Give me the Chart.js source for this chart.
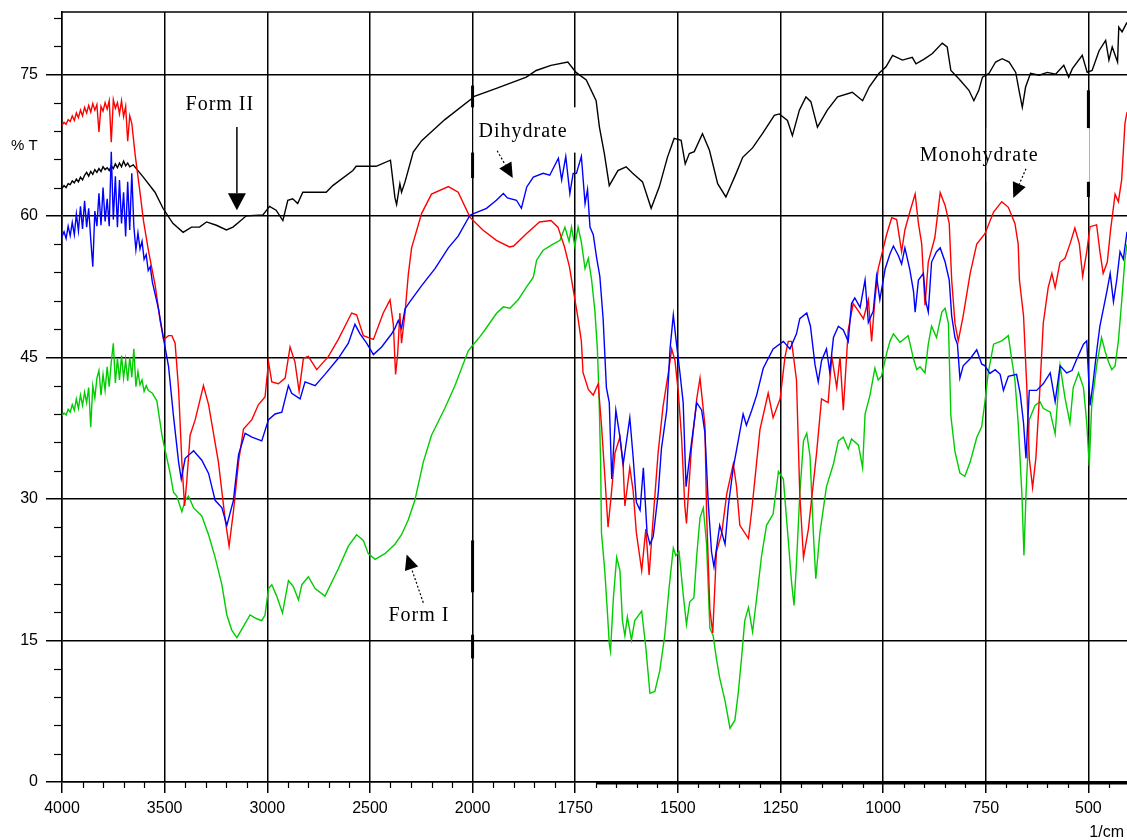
<!DOCTYPE html>
<html>
<head>
<meta charset="utf-8">
<title>IR spectra</title>
<script src="https://cdn.jsdelivr.net/npm/chart.js@4.4.1/dist/chart.umd.min.js"></script>
<style>
  html, body { margin: 0; padding: 0; background: #fff; }
  #wrap { width: 1127px; height: 840px; }
</style>
</head>
<body>
<div id="wrap"><canvas id="irChart" width="1127" height="840"></canvas></div>
<script>
/* DATA: [wavenumber (1/cm), %T] */
const formII = [
  [4000,62.9],[3990,63.2],[3980,63.0],[3970,63.4],[3960,63.3],[3950,63.7],[3940,63.5],[3930,63.9],[3920,63.6],[3910,64.1],
  [3900,63.8],[3890,64.3],[3880,64.6],[3870,64.2],[3860,64.7],[3850,64.4],[3840,64.9],[3830,64.6],[3820,65.0],[3810,64.7],
  [3800,65.2],[3790,64.9],[3780,65.1],[3770,64.8],[3760,65.3],[3750,65.0],[3740,65.5],[3730,65.1],[3720,65.6],[3710,65.2],
  [3700,65.8],[3690,65.3],[3680,65.6],[3670,65.2],[3653,65.4],[3604,64.1],[3547,62.5],[3508,60.8],[3460,59.2],[3410,58.25],
  [3369,58.8],[3330,58.8],[3296,59.35],[3248,59.0],[3199,58.5],[3167,58.8],[3102,60.0],[3021,60.1],[2989,61.0],[2957,60.6],
  [2924,59.5],[2900,61.65],[2876,61.8],[2852,61.3],[2827,62.5],[2713,62.5],[2681,63.2],[2583,64.8],[2567,65.25],[2470,65.25],
  [2400,65.9],[2378,61.9],[2370,61.2],[2354,63.4],[2346,62.5],[2329,63.6],[2289,66.75],[2248,67.97],[2135,70.2],[2005,72.4],
  [1999,72.6],[1942,73.5],[1869,74.7],[1845,75.4],[1809,75.95],[1768,76.3],[1748,75.2],[1723,74.4],[1699,72.2],[1691,69.4],
  [1679,66.6],[1667,63.2],[1646,64.8],[1626,65.2],[1610,64.5],[1586,63.6],[1565,60.8],[1545,63.1],[1525,66.25],[1509,68.2],
  [1492,68.0],[1482,65.5],[1472,66.6],[1460,66.8],[1440,68.7],[1423,66.95],[1403,63.4],[1383,62.0],[1358,64.5],[1342,66.2],
  [1318,67.2],[1294,68.7],[1265,70.65],[1253,70.8],[1233,70.1],[1221,68.5],[1204,71.2],[1188,72.6],[1176,72.1],[1160,69.4],
  [1136,71.2],[1111,72.6],[1075,73.1],[1050,72.2],[1034,73.65],[1010,75.1],[993,75.8],[977,77.0],[953,76.5],[929,76.8],
  [920,76.1],[900,76.6],[880,77.2],[856,78.3],[844,77.9],[835,75.4],[815,74.5],[791,73.3],[779,72.2],[767,73.3],
  [758,74.7],[742,75.1],[726,76.3],[710,76.65],[693,76.3],[677,75.2],[669,73.3],[661,71.5],[653,73.65],[641,75.1],
  [620,74.9],[600,75.2],[580,75.0],[560,75.95],[548,74.7],[539,75.6],[515,77.0],[503,75.2],[491,75.4],[474,77.5],
  [458,78.6],[450,76.5],[442,77.9],[429,76.3],[426,80.0],[418,79.5],[406,80.5]
];

const monohydrate = [
  [4000,69.6],[3990,69.9],[3980,69.7],[3970,70.2],[3960,70.0],[3950,70.6],[3940,70.1],[3930,70.9],[3920,70.4],[3910,71.2],
  [3900,70.6],[3890,71.5],[3880,70.9],[3870,71.7],[3860,71.0],[3850,71.9],[3840,71.2],[3830,71.8],[3820,68.9],[3810,71.6],
  [3800,71.1],[3790,72.0],[3780,71.3],[3770,72.2],[3760,67.8],[3750,72.3],[3740,71.4],[3730,72.0],[3720,70.8],[3710,72.2],
  [3700,70.5],[3690,71.6],[3680,67.9],[3670,70.6],[3660,69.8],[3643,66.35],[3619,62.3],[3603,59.46],[3578,56.2],[3546,52.6],
  [3522,48.9],[3505,46.9],[3481,47.3],[3465,47.3],[3449,46.5],[3432,41.6],[3416,33.9],[3403,29.25],[3392,31.9],[3376,36.75],
  [3351,38.4],[3311,42.0],[3286,40.0],[3238,33.9],[3205,27.8],[3186,25.0],[3165,28.65],[3140,33.9],[3116,37.4],[3075,38.4],
  [3043,40.0],[3011,40.8],[2994,44.5],[2978,42.4],[2946,42.2],[2913,42.8],[2889,46.1],[2865,44.5],[2845,41.4],[2824,44.9],
  [2800,45.1],[2759,43.7],[2702,45.1],[2654,46.9],[2589,49.7],[2565,49.5],[2532,47.3],[2483,46.9],[2435,49.7],[2402,51.1],
  [2386,48.5],[2375,43.2],[2365,45.3],[2354,49.7],[2346,46.5],[2329,49.7],[2313,53.8],[2297,56.6],[2248,60.26],[2200,62.3],
  [2118,63.1],[2070,62.5],[2013,59.86],[1975,58.5],[1942,57.4],[1910,56.7],[1900,56.8],[1869,58.1],[1837,59.35],[1809,59.5],
  [1792,58.8],[1776,56.7],[1764,54.6],[1756,52.5],[1743,49.1],[1735,46.7],[1731,43.4],[1718,41.6],[1706,41.0],[1694,42.2],
  [1686,37.8],[1678,32.5],[1670,27.0],[1662,30.5],[1653,34.9],[1641,36.55],[1633,33.3],[1629,29.25],[1617,33.3],[1609,30.9],
  [1601,26.4],[1588,22.4],[1578,26.8],[1570,21.95],[1560,28.0],[1548,34.9],[1536,39.8],[1523,43.4],[1515,45.9],[1507,44.65],
  [1499,41.4],[1491,36.55],[1483,29.25],[1479,27.4],[1467,35.3],[1454,40.6],[1446,42.8],[1434,37.8],[1430,28.4],[1422,18.3],
  [1415,15.8],[1406,24.4],[1393,26.4],[1381,30.5],[1365,33.7],[1357,31.3],[1349,27.2],[1328,25.8],[1320,28.8],[1300,37.35],
  [1280,41.2],[1268,38.6],[1251,40.6],[1239,45.05],[1231,46.7],[1223,46.7],[1211,42.6],[1203,30.5],[1194,23.8],[1182,26.8],
  [1162,34.9],[1150,40.6],[1134,40.2],[1125,45.05],[1113,41.8],[1105,45.05],[1097,39.4],[1085,47.9],[1073,50.7],[1060,49.9],
  [1048,49.1],[1036,51.1],[1028,46.7],[1020,51.1],[1012,54.4],[1004,55.8],[991,58.1],[979,59.8],[967,59.6],[955,56.2],
  [947,58.5],[935,60.4],[922,62.3],[914,59.2],[906,57.0],[898,50.5],[890,55.1],[874,57.7],[861,62.45],[849,61.1],
  [839,59.2],[833,53.2],[825,48.6],[817,46.75],[805,49.4],[788,53.9],[772,57.0],[752,58.1],[731,60.4],[711,61.5],
  [695,60.9],[679,59.2],[671,57.0],[668,53.2],[658,49.4],[650,41.8],[644,34.3],[636,31.2],[628,34.3],[618,41.8],
  [610,48.6],[598,52.4],[589,53.9],[581,52.4],[569,55.1],[557,55.5],[545,57.0],[533,58.7],[522,57.0],[514,53.6],
  [504,56.2],[496,58.85],[480,59.05],[472,56.2],[464,53.9],[454,55.1],[446,58.5],[435,62.3],[427,61.5],[419,63.8],
  [411,69.8],[406,71.0]
];

const dihydrate = [
  [4000,57.8],[3990,58.3],[3980,57.6],[3970,58.9],[3960,57.9],[3950,59.3],[3940,58.0],[3930,60.2],[3920,58.4],[3910,61.0],
  [3900,58.6],[3890,61.6],[3880,58.8],[3870,60.8],[3860,57.5],[3850,54.6],[3840,60.5],[3830,58.9],[3820,62.4],[3810,59.0],
  [3800,63.0],[3790,59.4],[3780,61.8],[3770,58.9],[3760,66.8],[3750,59.6],[3740,64.2],[3730,58.8],[3720,63.8],[3710,59.2],
  [3700,62.5],[3690,57.8],[3680,63.6],[3670,58.5],[3660,64.5],[3650,58.9],[3640,56.4],[3630,58.2],[3620,56.5],[3610,57.3],
  [3600,55.4],[3590,55.9],[3580,54.2],[3570,54.6],[3560,53.0],[3530,50.13],[3505,46.9],[3481,44.05],[3457,38.8],[3432,33.9],
  [3419,32.1],[3400,34.3],[3359,35.1],[3319,34.1],[3286,32.7],[3254,29.85],[3221,29.05],[3197,27.2],[3165,29.85],[3140,34.7],
  [3108,36.95],[3075,36.55],[3027,36.15],[2994,38.4],[2962,39.0],[2929,39.2],[2897,42.0],[2881,41.2],[2840,40.6],[2816,42.4],
  [2767,42.0],[2719,43.2],[2654,44.9],[2605,46.5],[2573,48.5],[2548,47.5],[2516,46.5],[2483,45.3],[2443,46.1],[2394,47.5],
  [2378,48.1],[2362,48.9],[2346,48.1],[2329,50.13],[2305,50.9],[2248,52.6],[2183,54.4],[2118,56.6],[2070,57.85],[2013,60.06],
  [1999,60.2],[1966,60.8],[1942,61.65],[1925,62.36],[1915,61.9],[1893,61.65],[1881,60.8],[1868,63.06],[1852,64.1],[1828,64.5],
  [1812,64.3],[1791,66.1],[1783,63.8],[1773,66.3],[1763,62.36],[1755,64.5],[1747,64.5],[1735,66.3],[1726,61.3],[1720,62.8],
  [1714,58.8],[1706,58.0],[1698,55.6],[1690,53.6],[1682,49.1],[1674,41.8],[1667,40.2],[1661,32.1],[1651,39.4],[1641,36.55],
  [1633,33.7],[1617,38.6],[1609,34.5],[1601,29.65],[1592,28.8],[1584,33.3],[1575,26.4],[1568,25.2],[1560,26.0],[1548,30.5],
  [1540,35.3],[1527,39.4],[1519,45.9],[1511,49.5],[1505,47.1],[1495,43.4],[1487,40.2],[1480,31.3],[1471,34.5],[1454,40.2],
  [1442,39.4],[1434,37.0],[1426,29.65],[1418,24.4],[1412,22.8],[1398,27.2],[1385,25.2],[1377,29.25],[1365,33.3],[1353,36.15],
  [1341,39.0],[1333,37.8],[1320,39.4],[1308,41.0],[1292,43.85],[1268,45.9],[1243,46.7],[1227,45.9],[1211,47.5],[1203,49.1],
  [1186,49.7],[1177,48.3],[1166,44.25],[1158,42.4],[1150,44.65],[1138,45.9],[1130,43.45],[1121,47.1],[1109,48.3],[1097,47.9],
  [1085,46.7],[1077,50.7],[1069,51.3],[1056,50.3],[1044,53.2],[1036,48.7],[1024,49.9],[1016,53.6],[1008,51.1],[995,54.4],
  [983,56.0],[975,56.8],[963,55.8],[955,54.9],[947,56.6],[935,54.3],[926,52.0],[922,49.8],[914,53.2],[902,53.9],
  [896,50.9],[890,49.8],[882,55.1],[870,56.2],[861,56.6],[849,55.1],[839,53.2],[833,49.4],[825,47.1],[819,46.4],
  [813,42.8],[805,44.1],[788,44.85],[772,45.8],[760,44.3],[752,44.1],[740,43.3],[727,43.7],[715,43.2],[707,41.5],
  [695,43.0],[675,43.2],[666,41.1],[658,38.05],[652,34.3],[644,41.5],[626,41.5],[610,42.2],[593,43.35],[581,40.3],
  [569,44.1],[553,43.35],[540,43.6],[528,44.85],[512,46.4],[504,46.75],[496,39.9],[489,42.2],[480,45.6],[472,48.3],
  [455,52.0],[447,53.9],[439,50.9],[431,53.2],[423,56.2],[415,55.4],[406,58.3]
];

const formI = [
  [4000,38.8],[3990,39.1],[3980,38.9],[3970,39.5],[3960,39.2],[3950,40.0],[3940,39.4],[3930,40.6],[3920,39.6],[3910,41.0],
  [3900,39.9],[3890,41.3],[3880,40.2],[3870,41.8],[3860,37.6],[3850,42.0],[3840,40.7],[3830,42.8],[3820,43.6],[3810,41.0],
  [3800,43.2],[3790,41.5],[3780,44.0],[3770,41.9],[3760,44.5],[3750,46.5],[3740,42.3],[3730,44.9],[3720,42.6],[3710,45.2],
  [3700,42.8],[3690,44.7],[3680,42.5],[3670,45.0],[3660,42.9],[3650,45.9],[3640,41.9],[3630,43.5],[3620,42.1],[3610,42.6],
  [3600,41.4],[3590,42.0],[3580,41.5],[3560,41.2],[3538,40.4],[3513,36.75],[3505,35.9],[3489,34.3],[3473,32.7],[3457,30.7],
  [3441,30.3],[3416,28.65],[3400,29.85],[3384,30.3],[3359,29.05],[3319,28.2],[3286,26.2],[3254,23.8],[3221,20.9],[3197,17.7],
  [3173,16.1],[3148,15.3],[3116,16.5],[3084,17.7],[3051,17.3],[3027,17.1],[3011,17.7],[2994,20.5],[2978,20.9],[2954,19.7],
  [2926,17.9],[2897,21.35],[2873,20.7],[2848,19.3],[2832,20.9],[2800,21.75],[2767,20.5],[2719,19.7],[2654,22.6],[2605,25.0],
  [2565,26.2],[2532,25.6],[2508,24.2],[2475,23.6],[2427,24.2],[2378,25.2],[2346,26.2],[2313,27.8],[2281,29.85],[2240,33.9],
  [2200,36.75],[2135,39.6],[2086,42.0],[2021,45.7],[2006,46.1],[1982,47.2],[1970,47.9],[1942,49.65],[1925,50.35],[1909,50.2],
  [1889,51.1],[1868,52.5],[1852,53.5],[1844,55.3],[1828,56.35],[1808,56.9],[1787,57.4],[1775,58.8],[1765,57.3],[1759,58.8],
  [1751,56.8],[1743,58.8],[1735,57.2],[1726,54.4],[1718,55.5],[1710,53.2],[1702,49.9],[1696,45.9],[1692,41.0],[1688,33.7],
  [1686,26.4],[1678,22.4],[1672,18.3],[1667,14.65],[1664,13.85],[1657,19.5],[1649,23.8],[1641,22.4],[1635,17.1],[1629,15.5],
  [1623,17.5],[1613,15.05],[1605,17.1],[1588,18.1],[1578,14.25],[1568,9.4],[1556,9.6],[1544,11.8],[1532,15.5],[1521,20.7],
  [1511,24.8],[1505,24.0],[1497,24.4],[1487,19.9],[1479,16.7],[1471,19.1],[1461,19.5],[1454,24.0],[1446,28.0],[1438,29.05],
  [1430,25.2],[1422,16.3],[1414,15.5],[1406,13.05],[1398,11.0],[1385,8.6],[1373,5.7],[1361,6.55],[1353,9.4],[1345,13.05],
  [1337,17.1],[1328,18.5],[1318,15.9],[1308,19.5],[1296,24.0],[1284,27.2],[1268,28.4],[1255,32.9],[1243,32.1],[1231,25.6],
  [1223,21.15],[1217,18.7],[1211,23.2],[1203,30.5],[1194,36.15],[1186,36.95],[1178,34.5],[1170,26.4],[1164,21.55],[1154,26.4],
  [1138,31.3],[1121,33.7],[1109,36.15],[1097,36.55],[1085,35.3],[1077,36.35],[1060,35.7],[1050,33.3],[1044,39.0],[1032,41.0],
  [1020,43.85],[1012,42.6],[1004,43.0],[991,45.5],[983,46.75],[975,47.5],[959,46.6],[939,47.3],[926,44.85],[918,43.7],
  [910,44.0],[898,43.35],[890,46.4],[882,48.3],[870,47.1],[857,49.8],[849,50.2],[841,48.6],[835,38.8],[825,35.0],
  [813,32.75],[801,32.4],[788,33.9],[772,36.5],[760,37.65],[752,40.3],[744,43.35],[731,46.4],[711,46.75],[695,47.3],
  [687,44.85],[679,42.6],[671,38.05],[662,30.5],[657,24.0],[652,30.5],[644,38.4],[630,39.9],[618,40.3],[610,39.6],
  [593,39.2],[581,36.9],[569,44.1],[557,40.7],[545,38.05],[537,41.8],[524,43.35],[512,41.8],[504,38.05],[498,33.5],
  [492,39.9],[480,44.1],[468,47.1],[459,45.6],[451,44.5],[443,43.7],[435,44.1],[427,46.75],[419,50.9],[411,55.4],
  [406,57.0]
];

const xTickLabels = [4000, 3500, 3000, 2500, 2000, 1750, 1500, 1250, 1000, 750, 500];
const yTickLabels = [0, 15, 30, 45, 60, 75];
const WN_MIN = 406, WN_MAX = 4000, T_MAX = 81.6;

/* the axis is half scale above 2000 1/cm */
function squeeze(wn) { return wn > 2000 ? 2000 + (wn - 2000) / 2 : wn; }
function unsqueeze(v) { return v > 2000 ? 2000 + (v - 2000) * 2 : v; }

const toXY = arr => arr.map(p => ({ x: squeeze(p[0]), y: p[1] }));

/* ANNOTATIONS (in data units) */
const notes = [
  { text: "Form II",     wn: 3231, t: 71.8 },
  { text: "Dihydrate",   wn: 1877, t: 68.9 },
  { text: "Monohydrate", wn: 766,  t: 66.4 },
  { text: "Form I",      wn: 2261, t: 17.6 }
];
const arrows = [
  { from: [3148, 69.4], to: [3148, 60.6], dashed: false, head: 17, half: 9 },
  { from: [1940, 66.9], to: [1902, 64.0], dashed: true,  head: 15, half: 7 },
  { from: [652, 65.0],  to: [683, 61.9],  dashed: true,  head: 15, half: 7 },
  { from: [2240, 19.0], to: [2321, 24.1], dashed: true,  head: 15, half: 7 }
];
const whiteBoxes = [
  { wn: [2000, 1750], t: [71.5, 66.7] },
  { wn: [750, 500],   t: [69.3, 63.6] }
];
const thickBars = [
  { wn: 2000, t: [73.8, 71.5] }, { wn: 2000, t: [66.7, 64.0] },
  { wn: 2000, t: [25.6, 20.1] }, { wn: 2000, t: [15.6, 13.1] },
  { wn: 500,  t: [73.3, 69.3] }, { wn: 500,  t: [63.6, 62.0] }
];

const sansFont = '"Liberation Sans", Arial, sans-serif';
const serifFont = '"Liberation Serif", "Times New Roman", serif';

/* PLUGIN: minor ticks, boxes, labels and arrows */
const decorations = {
  id: "decorations",
  beforeDatasetsDraw(chart) {
    const { ctx, chartArea: a, scales: { x, y } } = chart;
    const px = wn => x.getPixelForValue(squeeze(wn));
    ctx.save();

    // white label boxes that cut the grid
    ctx.fillStyle = "#fff";
    whiteBoxes.forEach(b => {
      const x1 = px(b.wn[0]) + 1, x2 = px(b.wn[1]) + 1;
      const y1 = y.getPixelForValue(b.t[0]), y2 = y.getPixelForValue(b.t[1]);
      ctx.fillRect(x1, y1, x2 - x1, y2 - y1);
    });

    ctx.strokeStyle = "#000";
    ctx.lineWidth = 3;
    thickBars.forEach(b => {
      ctx.beginPath();
      ctx.moveTo(px(b.wn), y.getPixelForValue(b.t[0]));
      ctx.lineTo(px(b.wn), y.getPixelForValue(b.t[1]));
      ctx.stroke();
    });

    // top frame line
    ctx.lineWidth = 1.5;
    ctx.beginPath();
    ctx.moveTo(a.left, a.top);
    ctx.lineTo(a.right, a.top);
    ctx.stroke();

    // minor ticks on y (every 3 %T)
    ctx.lineWidth = 1.2;
    for (let v = 3; v < T_MAX; v += 3) {
      if (v % 15 === 0) continue;
      const yy = Math.round(y.getPixelForValue(v)) + 0.5;
      ctx.beginPath();
      ctx.moveTo(a.left - 8, yy);
      ctx.lineTo(a.left, yy);
      ctx.stroke();
    }
    // minor ticks on x (every 50 on the drawn scale)
    for (let v = 450; v < squeeze(WN_MAX); v += 50) {
      if (v % 250 === 0) continue;
      const xx = Math.round(x.getPixelForValue(v)) + 0.5;
      ctx.beginPath();
      ctx.moveTo(xx, a.bottom);
      ctx.lineTo(xx, a.bottom + 6);
      ctx.stroke();
    }
    // heavier axis line on the right part
    ctx.lineWidth = 3;
    ctx.beginPath();
    ctx.moveTo(px(1697), a.bottom + 1);
    ctx.lineTo(a.right, a.bottom + 1);
    ctx.stroke();
    ctx.restore();
  },
  afterDatasetsDraw(chart) {
    const { ctx, chartArea: a, scales: { x, y } } = chart;
    const pt = (wn, t) => [x.getPixelForValue(squeeze(wn)), y.getPixelForValue(t)];
    ctx.save();

    ctx.fillStyle = "#000";
    ctx.font = "20px " + serifFont;
    if ("letterSpacing" in ctx) ctx.letterSpacing = "1px";
    ctx.textAlign = "center";
    ctx.textBaseline = "middle";
    notes.forEach(n => {
      const [tx, ty] = pt(n.wn, n.t);
      ctx.fillText(n.text, tx, ty);
    });
    if ("letterSpacing" in ctx) ctx.letterSpacing = "0px";

    arrows.forEach(ar => {
      const [x1, y1] = pt(ar.from[0], ar.from[1]);
      const [x2, y2] = pt(ar.to[0], ar.to[1]);
      const ang = Math.atan2(y2 - y1, x2 - x1);
      const bx = x2 - Math.cos(ang) * ar.head, by = y2 - Math.sin(ang) * ar.head;
      ctx.strokeStyle = "#000";
      ctx.lineWidth = ar.dashed ? 1.2 : 1.5;
      ctx.setLineDash(ar.dashed ? [2, 2] : []);
      ctx.beginPath();
      ctx.moveTo(x1, y1);
      ctx.lineTo(bx, by);
      ctx.stroke();
      ctx.setLineDash([]);
      ctx.beginPath();
      ctx.moveTo(x2, y2);
      ctx.lineTo(bx - Math.sin(ang) * ar.half, by + Math.cos(ang) * ar.half);
      ctx.lineTo(bx + Math.sin(ang) * ar.half, by - Math.cos(ang) * ar.half);
      ctx.closePath();
      ctx.fill();
    });

    // axis captions
    ctx.font = "15px " + sansFont;
    ctx.textAlign = "left";
    ctx.fillText("% T", 11, y.getPixelForValue(67.4));
    ctx.font = "16px " + sansFont;
    ctx.textAlign = "right";
    ctx.fillText("1/cm", a.right - 3, a.bottom + 51);
    ctx.restore();
  }
};

/* CHART */
function initChart() {
  const lineSet = (label, arr, color) => ({
    label: label,
    data: toXY(arr),
    borderColor: color,
    borderWidth: 1.4,
    pointRadius: 0,
    tension: 0,
    fill: false
  });

  new Chart(document.getElementById("irChart").getContext("2d"), {
    type: "line",
    data: {
      datasets: [
        lineSet("Dihydrate", dihydrate, "#0000ff"),
        lineSet("Monohydrate", monohydrate, "#ff0000"),
        lineSet("Form I", formI, "#00cc00"),
        lineSet("Form II", formII, "#000000")
      ]
    },
    options: {
      responsive: false,
      animation: false,
      events: [],
      layout: { padding: { top: 12, right: 0, left: 0, bottom: 0 } },
      plugins: { legend: { display: false }, tooltip: { enabled: false } },
      scales: {
        x: {
          type: "linear",
          reverse: true,
          min: squeeze(WN_MIN),
          max: squeeze(WN_MAX),
          afterBuildTicks: s => { s.ticks = xTickLabels.map(w => ({ value: squeeze(w) })); },
          afterFit: s => { s.height = 58; s.paddingRight = 0; },
          ticks: {
            callback: v => String(unsqueeze(v)),
            font: { family: sansFont, size: 16 },
            color: "#000",
            autoSkip: false,
            maxRotation: 0,
            padding: 6
          },
          grid: { color: "#000", lineWidth: 1.5, tickLength: 11 },
          border: { color: "#000", width: 1.5 }
        },
        y: {
          min: 0,
          max: T_MAX,
          afterBuildTicks: s => { s.ticks = yTickLabels.map(v => ({ value: v })); },
          afterFit: s => { s.width = 62; s.paddingTop = 0; s.paddingBottom = 0; },
          ticks: {
            font: { family: sansFont, size: 16 },
            color: "#000",
            padding: 8
          },
          grid: { color: "#000", lineWidth: 1.5, tickLength: 16 },
          border: { color: "#000", width: 1.5 }
        }
      }
    },
    plugins: [decorations]
  });
}

document.addEventListener("DOMContentLoaded", initChart);
</script>
</body>
</html>
